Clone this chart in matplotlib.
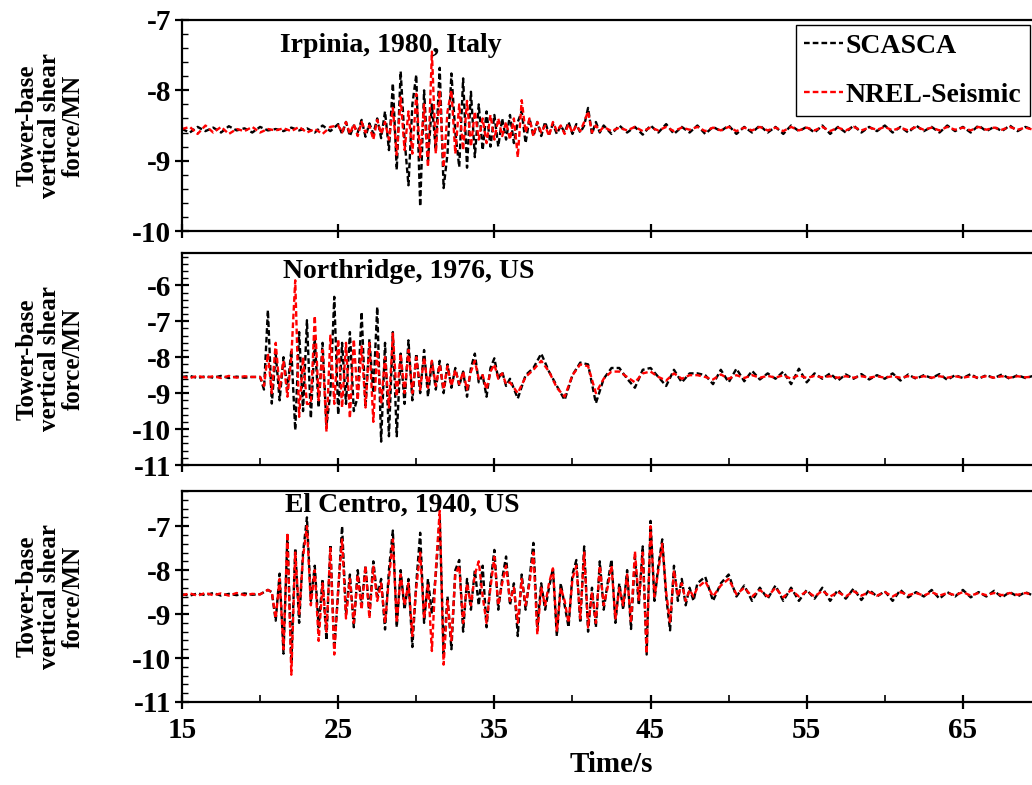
import numpy as np
import matplotlib
matplotlib.use("Agg")
import matplotlib.pyplot as plt
from matplotlib.ticker import MultipleLocator

plt.rcParams['font.family'] = ['Liberation Serif', 'DejaVu Serif']
plt.rcParams['font.weight'] = 'bold'
plt.rcParams['axes.unicode_minus'] = False

# ---------------- data ----------------
titles = ["Irpinia, 1980, Italy", "Northridge, 1976, US", "El Centro, 1940, US"]
series_names = ["SCASCA", "NREL-Seismic"]

# Panel 1: Irpinia
t1 = np.concatenate([np.arange(15, 25, 0.5), np.arange(25, 42, 0.25), np.arange(42, 70.01, 0.5)])
irp_scasca = [
    -8.55, -8.60, -8.52, -8.58, -8.53, -8.60, -8.51, -8.57, -8.54, -8.60,
    -8.52, -8.57, -8.55, -8.58, -8.53, -8.57, -8.54, -8.60, -8.50, -8.58,
    # 25.00 - 27.75
    -8.48, -8.62, -8.45, -8.65, -8.50, -8.60, -8.42, -8.66, -8.47, -8.62,
    -8.40, -8.68,
    # 28.00 - 41.75
    -8.30, -8.85, -7.90, -9.13, -7.73, -8.70, -9.35, -8.20, -7.78, -9.65,
    -8.00, -9.00, -8.20, -8.85, -7.68, -9.39, -8.90, -7.76, -8.60, -9.09,
    -7.83, -9.10, -8.02, -8.95, -8.20, -8.85, -8.30, -8.80, -8.35, -8.80,
    -8.40, -8.70, -8.35, -8.75, -8.45, -8.30, -8.75, -8.40, -8.65, -8.45,
    -8.65, -8.45, -8.62, -8.48, -8.62, -8.50, -8.60, -8.45, -8.62, -8.48,
    -8.60, -8.50, -8.25, -8.62, -8.45, -8.60,
    # 42.0 - 70.0
    -8.50, -8.62, -8.50, -8.60, -8.52, -8.63, -8.50, -8.60, -8.48, -8.62,
    -8.52, -8.60, -8.50, -8.62, -8.52, -8.58, -8.50, -8.62, -8.52, -8.60,
    -8.50, -8.60, -8.52, -8.62, -8.50, -8.58, -8.52, -8.60, -8.50, -8.62,
    -8.52, -8.60, -8.50, -8.60, -8.52, -8.58, -8.50, -8.60, -8.52, -8.60,
    -8.50, -8.58, -8.52, -8.60, -8.50, -8.58, -8.52, -8.60, -8.50, -8.58,
    -8.52, -8.58, -8.50, -8.58, -8.52, -8.56, -8.55,
]
irp_nrel = [
    -8.55, -8.52, -8.62, -8.50, -8.60, -8.52, -8.62, -8.55, -8.58, -8.52,
    -8.60, -8.55, -8.57, -8.54, -8.58, -8.52, -8.60, -8.55, -8.62, -8.52,
    # 25.00 - 27.75
    -8.50, -8.60, -8.45, -8.62, -8.48, -8.65, -8.45, -8.60, -8.50, -8.70,
    -8.42, -8.62,
    # 28.00 - 41.75
    -8.45, -8.70, -8.25, -8.92, -8.10, -8.85, -8.30, -8.90, -8.05, -8.95,
    -8.20, -9.09, -7.45, -8.90, -8.00, -9.10, -8.30, -8.00, -8.90, -8.20,
    -8.85, -8.15, -8.80, -8.30, -8.70, -8.40, -8.75, -8.35, -8.70, -8.40,
    -8.65, -8.45, -8.70, -8.40, -8.95, -8.14, -8.60, -8.40, -8.65, -8.45,
    -8.60, -8.50, -8.65, -8.45, -8.58, -8.50, -8.62, -8.48, -8.60, -8.50,
    -8.58, -8.45, -8.30, -8.60, -8.50, -8.58,
    # 42.0 - 70.0
    -8.52, -8.58, -8.53, -8.57, -8.52, -8.58, -8.53, -8.57, -8.52, -8.58,
    -8.53, -8.56, -8.52, -8.58, -8.53, -8.57, -8.52, -8.58, -8.53, -8.57,
    -8.52, -8.57, -8.53, -8.58, -8.52, -8.57, -8.53, -8.57, -8.52, -8.58,
    -8.53, -8.57, -8.52, -8.57, -8.53, -8.56, -8.52, -8.57, -8.53, -8.57,
    -8.52, -8.56, -8.53, -8.57, -8.52, -8.56, -8.53, -8.57, -8.52, -8.56,
    -8.53, -8.56, -8.52, -8.56, -8.53, -8.56, -8.55,
]

# Panel 2: Northridge
t2 = np.concatenate([np.arange(15, 20, 0.5), np.arange(20, 36, 0.25), np.arange(36, 70.01, 0.5)])
nor_scasca = [
    -8.55, -8.52, -8.58, -8.53, -8.57, -8.52, -8.58, -8.54, -8.57, -8.55,
    # 20.00 - 35.75
    -8.55, -8.90, -6.69, -9.29, -7.90, -9.20, -8.00, -8.90, -7.80, -10.03,
    -7.30, -9.50, -6.97, -9.70, -7.50, -9.40, -7.60, -9.90, -9.00, -6.32,
    -9.60, -7.60, -9.30, -7.30, -9.50, -9.10, -6.74, -9.40, -7.50, -9.00,
    -6.60, -10.35, -7.60, -10.20, -7.30, -10.20, -7.90, -9.30, -7.53, -9.20,
    -7.90, -9.00, -7.80, -9.10, -8.10, -8.90, -8.10, -9.00, -8.20, -8.85,
    -8.30, -8.80, -8.40, -9.10, -8.30, -7.90, -8.70, -8.50, -9.10, -8.30,
    -8.03, -8.60, -8.40, -8.80,
    # 36.0 - 70.0
    -8.60, -9.15, -8.50, -8.30, -7.90, -8.40, -8.80, -9.19, -8.50, -8.15,
    -8.20, -9.28, -8.60, -8.30, -8.30, -8.60, -8.85, -8.35, -8.30, -8.55,
    -8.80, -8.35, -8.70, -8.45, -8.45, -8.50, -8.75, -8.35, -8.70, -8.32,
    -8.67, -8.38, -8.62, -8.45, -8.60, -8.40, -8.75, -8.32, -8.70, -8.45,
    -8.60, -8.45, -8.65, -8.48, -8.60, -8.47, -8.62, -8.50, -8.60, -8.45,
    -8.65, -8.48, -8.60, -8.50, -8.58, -8.47, -8.63, -8.50, -8.58, -8.47,
    -8.60, -8.50, -8.58, -8.48, -8.60, -8.50, -8.58, -8.52, -8.55,
]
nor_nrel = [
    -8.55, -8.58, -8.52, -8.57, -8.53, -8.58, -8.52, -8.57, -8.53, -8.55,
    # 20.00 - 35.75
    -8.55, -8.80, -7.90, -9.00, -7.60, -8.90, -8.10, -9.10, -8.00, -5.86,
    -9.66, -8.00, -9.30, -9.30, -6.85, -9.20, -7.80, -10.07, -7.40, -9.30,
    -7.50, -9.40, -7.60, -9.70, -7.50, -9.20, -7.70, -9.40, -7.60, -9.80,
    -7.80, -9.30, -8.00, -9.40, -7.34, -9.10, -7.90, -9.00, -7.80, -9.00,
    -8.00, -8.90, -8.00, -8.85, -8.10, -8.80, -8.20, -8.90, -8.25, -8.80,
    -8.35, -8.75, -8.40, -8.90, -8.40, -8.10, -8.60, -8.50, -8.90, -8.40,
    -8.20, -8.60, -8.45, -8.75,
    # 36.0 - 70.0
    -8.70, -9.00, -8.55, -8.35, -8.10, -8.40, -8.85, -9.10, -8.50, -8.20,
    -8.25, -9.00, -8.60, -8.40, -8.40, -8.55, -8.70, -8.45, -8.40, -8.55,
    -8.65, -8.45, -8.60, -8.50, -8.50, -8.55, -8.62, -8.48, -8.60, -8.50,
    -8.58, -8.50, -8.57, -8.52, -8.57, -8.50, -8.60, -8.50, -8.58, -8.52,
    -8.56, -8.53, -8.57, -8.53, -8.57, -8.53, -8.57, -8.53, -8.57, -8.53,
    -8.57, -8.53, -8.57, -8.53, -8.57, -8.53, -8.57, -8.53, -8.57, -8.53,
    -8.57, -8.53, -8.57, -8.53, -8.57, -8.53, -8.56, -8.54, -8.55,
]

# Panel 3: El Centro
t3 = np.concatenate([np.arange(15, 20.01, 0.5), np.arange(20.5, 48, 0.25), np.arange(48, 70.01, 0.5)])
elc_scasca = [
    -8.55, -8.58, -8.53, -8.57, -8.52, -8.58, -8.54, -8.57, -8.53, -8.56, -8.55,
    # 20.50 - 47.75
    -8.45, -8.50, -9.15, -8.08, -9.90, -7.20, -10.10, -7.50, -9.20, -7.60,
    -6.80, -8.70, -7.90, -9.30, -8.20, -9.60, -7.42, -9.80, -8.50, -7.00,
    -9.00, -8.10, -9.30, -8.00, -8.80, -7.90, -9.00, -7.80, -8.60, -8.20,
    -9.35, -8.00, -7.10, -9.30, -8.00, -8.90, -8.20, -9.75, -8.30, -7.15,
    -9.20, -8.20, -9.00, -8.10, -6.80, -9.90, -8.60, -9.80, -8.00, -7.77,
    -9.40, -8.20, -8.90, -8.00, -8.80, -7.90, -9.30, -8.30, -7.54, -8.90,
    -8.20, -7.69, -8.80, -8.30, -9.50, -8.10, -8.90, -8.20, -7.38, -9.30,
    -8.30, -8.90, -8.40, -7.96, -9.50, -8.30, -8.80, -9.30, -8.10, -7.77,
    -9.20, -7.46, -9.40, -8.40, -9.30, -7.80, -8.90, -8.30, -7.76, -9.20,
    -8.30, -8.90, -8.00, -9.34, -7.70, -8.80, -7.46, -9.92, -6.88, -8.70,
    -7.90, -7.30, -8.60, -9.37, -7.90, -8.70, -8.20, -8.80, -8.40, -8.70,
    # 48.0 - 70.0
    -8.30, -8.15, -8.70, -8.30, -8.10, -8.60, -8.35, -8.70, -8.40, -8.65,
    -8.35, -8.70, -8.40, -8.70, -8.45, -8.65, -8.40, -8.70, -8.45, -8.65,
    -8.42, -8.68, -8.45, -8.60, -8.48, -8.70, -8.45, -8.62, -8.50, -8.60,
    -8.45, -8.65, -8.50, -8.60, -8.45, -8.62, -8.50, -8.60, -8.47, -8.62,
    -8.50, -8.60, -8.50, -8.58, -8.52,
]
elc_nrel = [
    -8.57, -8.53, -8.58, -8.52, -8.57, -8.53, -8.58, -8.52, -8.57, -8.54, -8.55,
    # 20.50 - 47.75
    -8.45, -8.50, -9.10, -8.20, -9.80, -7.15, -10.38, -7.60, -9.00, -7.70,
    -7.00, -8.80, -8.00, -9.61, -8.30, -9.40, -7.50, -9.92, -8.40, -7.30,
    -9.10, -8.20, -9.20, -8.10, -8.90, -7.90, -9.10, -7.90, -8.70, -8.30,
    -9.20, -8.20, -7.30, -9.20, -8.10, -8.80, -8.30, -9.50, -8.40, -7.60,
    -9.10, -8.30, -9.84, -8.00, -6.65, -10.15, -8.70, -9.60, -8.10, -7.90,
    -9.20, -8.30, -8.80, -8.10, -7.80, -8.60, -9.20, -8.40, -7.70, -8.80,
    -8.30, -7.90, -8.70, -8.40, -9.20, -8.20, -8.80, -8.30, -7.60, -9.46,
    -8.40, -8.80, -8.30, -7.96, -9.40, -8.40, -8.70, -9.20, -8.20, -7.90,
    -9.10, -7.60, -9.30, -8.50, -9.20, -7.90, -8.80, -8.40, -7.90, -9.10,
    -8.40, -8.80, -8.10, -9.20, -7.57, -8.70, -7.60, -9.90, -7.00, -8.60,
    -8.00, -7.40, -8.50, -9.20, -8.00, -8.60, -8.30, -8.70, -8.45, -8.60,
    # 48.0 - 70.0
    -8.40, -8.25, -8.60, -8.35, -8.20, -8.55, -8.40, -8.60, -8.45, -8.60,
    -8.40, -8.62, -8.45, -8.60, -8.48, -8.60, -8.47, -8.60, -8.50, -8.60,
    -8.48, -8.58, -8.50, -8.58, -8.50, -8.60, -8.50, -8.57, -8.52, -8.58,
    -8.50, -8.58, -8.52, -8.57, -8.50, -8.58, -8.52, -8.57, -8.52, -8.57,
    -8.52, -8.56, -8.52, -8.56, -8.54,
]

panels = [
    (t1, irp_scasca, irp_nrel, (-10, -7), [-10, -9, -8, -7]),
    (t2, nor_scasca, nor_nrel, (-11, -5.1), [-11, -10, -9, -8, -7, -6]),
    (t3, elc_scasca, elc_nrel, (-11, -6.2), [-11, -10, -9, -8, -7]),
]

xticks = [15, 25, 35, 45, 55, 65]

# ---------------- figure ----------------
W, H = 1032, 785
fig = plt.figure(figsize=(W / 100, H / 100), dpi=100)

left_px, right_px = 182, 1041
boxes = [(20, 231), (253, 465), (491, 702)]
title_pos = [(280, 45), (283, 272), (285, 505)]

axes = []
for i, ((t, ys, yn, ylim, yt), (top, bot)) in enumerate(zip(panels, boxes)):
    ax = fig.add_axes([left_px / W, 1 - bot / H, (right_px - left_px) / W, (bot - top) / H])
    axes.append(ax)
    ax.plot(t, ys, color='black', lw=1.7, linestyle=(0, (2.4, 1.3)), label=series_names[0])
    ax.plot(t, yn, color='#ff0000', lw=1.7, linestyle=(0, (2.4, 1.3)), label=series_names[1])
    ax.set_xlim(15, 70)
    ax.set_ylim(*ylim)
    ax.set_yticks(yt)
    ax.yaxis.set_minor_locator(MultipleLocator(0.2))
    ax.set_xticks(xticks)
    if i > 0:
        ax.set_xticks([20, 30, 40, 50, 60], minor=True)
    for s in ax.spines.values():
        s.set_linewidth(1.6)
    ax.spines['right'].set_visible(False)
    ax.tick_params(axis='both', which='major', direction='inout', length=10, width=1.6,
                   labelsize=21, pad=3)
    ax.tick_params(axis='x', which='major', pad=6)
    ax.tick_params(axis='both', which='minor', direction='in', length=5, width=1.2)
    ax.tick_params(axis='y', which='minor', direction='in', length=4, width=1.0)
    for lab in ax.get_yticklabels() + ax.get_xticklabels():
        lab.set_fontweight('bold')
    if i < 2:
        ax.tick_params(axis='x', labelbottom=False)
    tx, ty = title_pos[i]
    ax.text((tx - left_px) / (right_px - left_px), (bot - ty) / (bot - top), titles[i],
            transform=ax.transAxes, ha='left', va='center', fontsize=20, fontweight='bold')
    fig.text(50 / W, 1 - ((top + bot) / 2) / H, "Tower-base\nvertical shear\nforce/MN",
             rotation=90, ha='center', va='center', multialignment='center',
             fontsize=18, fontweight='bold', linespacing=1.0)

axes[2].set_xlabel("Time/s", fontsize=21, fontweight='bold', labelpad=5)

leg = axes[0].legend(loc='upper right', bbox_to_anchor=(1030 / W, 1 - 25 / H),
                     bbox_transform=fig.transFigure, fontsize=20, frameon=True,
                     fancybox=False, edgecolor='black', framealpha=1,
                     handlelength=1.4, handletextpad=0.1, labelspacing=0.85,
                     borderpad=0.3, borderaxespad=0)
leg.get_frame().set_linewidth(1.0)
for txt in leg.get_texts():
    txt.set_fontweight('bold')

fig.savefig("out.png", dpi=100)
